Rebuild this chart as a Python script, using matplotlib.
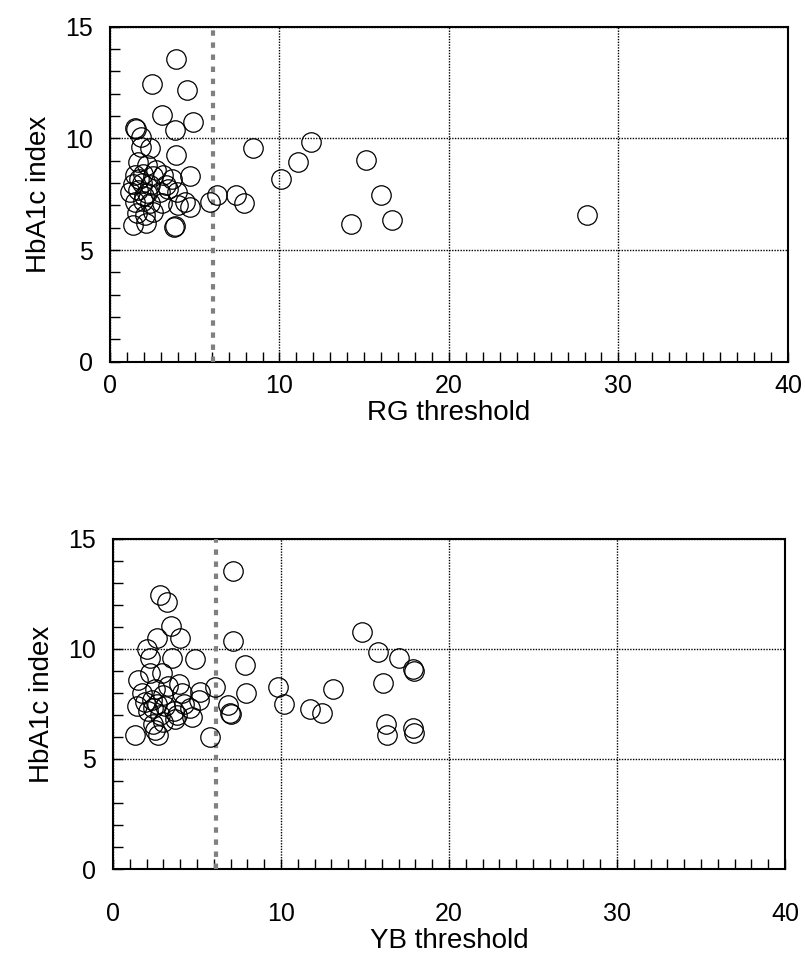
import matplotlib
matplotlib.use('Agg')
import matplotlib.pyplot as plt
from matplotlib.ticker import MultipleLocator

plt.rcParams['font.family'] = ['Liberation Sans', 'DejaVu Sans']

# RG threshold vs HbA1c (top panel)
rg_x = [3.88, 2.50, 4.54, 3.05, 4.92, 3.83, 1.47, 1.52, 1.81, 1.85, 2.36, 3.88,
        8.42, 11.86, 11.07, 10.09, 15.09, 15.99, 16.62, 14.20, 28.16,
        6.33, 5.90, 7.43, 7.92,
        1.67, 2.16, 1.47, 1.97, 2.55, 3.15, 3.64, 4.72,
        1.37, 1.87, 2.36, 1.18, 1.67, 2.16, 2.95, 3.44, 3.93,
        4.42, 4.72, 3.05, 1.47, 1.97, 2.36, 1.57, 2.06, 2.55,
        1.37, 2.12, 3.80, 3.86, 4.00, 1.70, 2.00, 2.70, 3.30]
rg_y = [13.55, 12.44, 12.17, 11.05, 10.75, 10.38, 10.46, 10.40, 10.08, 9.63, 9.58, 9.26,
        9.56, 9.85, 8.96, 8.17, 9.03, 7.45, 6.35, 6.17, 6.55,
        7.46, 7.17, 7.46, 7.09,
        8.96, 8.80, 8.35, 8.40, 8.30, 8.35, 8.20, 8.30,
        7.95, 8.00, 7.90, 7.60, 7.70, 7.55, 7.60, 7.75, 7.60,
        7.16, 6.94, 7.09, 7.15, 7.20, 7.10, 6.65, 6.55, 6.70,
        6.12, 6.20, 6.03, 6.07, 7.00, 8.20, 7.40, 8.60, 7.90]

# YB threshold vs HbA1c (bottom panel)
yb_x = [1.30, 1.40, 1.50, 1.70, 1.90, 2.00, 2.10, 2.20, 2.20, 2.30, 2.40, 2.40,
        2.50, 2.50, 2.60, 2.60, 2.70, 2.80, 2.80, 2.90, 3.00, 3.00, 3.10, 3.20,
        3.30, 3.45, 3.50, 3.60, 3.70, 3.80, 3.90, 4.00, 4.10, 4.20, 4.60, 4.70,
        4.90, 5.10, 5.20, 5.80, 6.07, 6.87, 6.97, 7.00, 7.16, 7.16, 7.86, 7.92,
        9.80, 10.18, 11.73, 12.42, 13.11, 14.84, 15.79, 17.04, 17.88, 17.92,
        16.05, 16.23, 16.29, 17.84, 17.92]
yb_y = [6.10, 7.40, 8.60, 8.00, 7.60, 10.00, 7.20, 9.60, 8.90, 7.70, 7.30, 6.60,
        6.30, 8.20, 10.50, 7.50, 6.10, 12.45, 7.00, 8.90, 7.90, 6.70, 7.40, 12.15,
        8.30, 11.05, 9.58, 7.20, 6.80, 7.00, 8.40, 10.49, 8.00, 7.50, 7.30, 6.90,
        9.55, 7.70, 8.06, 5.98, 8.29, 7.45, 7.07, 7.04, 13.56, 10.38, 9.27, 7.99,
        8.29, 7.49, 7.27, 7.08, 8.17, 10.79, 9.88, 9.58, 9.08, 9.00,
        8.47, 6.59, 6.09, 6.39, 6.20]

cutoff_rg = 6.1
cutoff_yb = 6.1

fig = plt.figure(figsize=(8.05, 9.58), dpi=100)
ax1 = fig.add_axes([0.1366, 0.6224, 0.8422, 0.3497])
ax2 = fig.add_axes([0.1404, 0.0929, 0.8348, 0.3445])


def draw(ax, xs, ys, cutoff, xlabel, xpad):
    ax.set_xlim(0, 40)
    ax.set_ylim(0, 15)
    ax.grid(True, which='major', color='black', linestyle=(0, (1, 1)), lw=1.0)
    ax.axvline(cutoff, color='#808080', lw=3.0, linestyle=(0, (1.3, 1.6)), zorder=3)
    ax.plot(xs, ys, 'o', mfc='none', mec='black', ms=14, mew=0.9, zorder=4)
    ax.xaxis.set_major_locator(MultipleLocator(10))
    ax.xaxis.set_minor_locator(MultipleLocator(1))
    ax.yaxis.set_major_locator(MultipleLocator(5))
    ax.yaxis.set_minor_locator(MultipleLocator(1))
    ax.tick_params(which='both', direction='in', top=False, right=False,
                   length=7, width=1, labelsize=18)
    ax.tick_params(axis='x', pad=xpad)
    ax.tick_params(axis='y', pad=12)
    for s in ax.spines.values():
        s.set_linewidth(1.5)
    ax.set_xlabel(xlabel, fontsize=20, labelpad=1)
    ax.set_ylabel('HbA1c index', fontsize=20, labelpad=10)


draw(ax1, rg_x, rg_y, cutoff_rg, 'RG threshold', 9)
draw(ax2, yb_x, yb_y, cutoff_yb, 'YB threshold', 24)

fig.savefig('out.png', dpi=100)
